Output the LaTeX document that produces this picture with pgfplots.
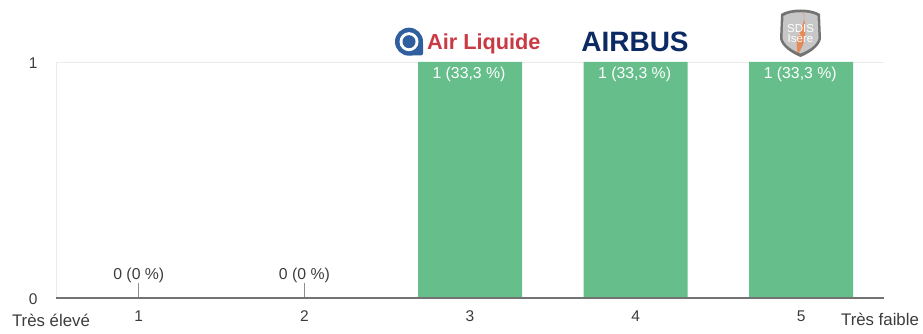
\documentclass[border=0pt]{standalone}
\usepackage{fontspec}
\setmainfont{Liberation Sans}
\usepackage{pgfplots}
\pgfplotsset{compat=1.18}
\definecolor{barg}{HTML}{66BF8B}
\definecolor{txt}{HTML}{3C3C3C}
\definecolor{alblue}{HTML}{2F5F9E}
\definecolor{alred}{HTML}{C93A44}
\definecolor{abnavy}{HTML}{0B2A63}
\begin{document}
\begin{tikzpicture}[x=1pt,y=1pt]
\path (0,0) rectangle (923,334);
\begin{axis}[
  at={(56pt,36pt)}, anchor=south west, scale only axis,
  width=828pt, height=236pt,
  xmin=0.5, xmax=5.5, ymin=0, ymax=1,
  xtick={1,2,3,4,5}, ytick={0,1},
  xtick style={draw=none}, ytick style={draw=none},
  /pgf/number format/assume math mode=true,
  tick label style={font=\fontsize{15.5}{17}\selectfont, text=txt},
  xticklabel style={yshift=-9pt},
  yticklabel style={xshift=-15pt, yshift=-1pt},
  ymajorgrids, grid style={draw=black!8, line width=0.8pt},
  axis line style={draw=black!8, line width=0.8pt},
  axis x line*=bottom, axis y line*=left,
  clip=false,
]
\addplot[ybar, bar width=104pt, bar shift=0pt, fill=barg, draw=none,
  point meta=explicit symbolic,
  nodes near coords,
  nodes near coords align={below},
  every node near coord/.append style={font=\fontsize{15.8}{17}\selectfont, text=white, yshift=-2pt, xshift=-1pt}]
  coordinates {(3,1)[1 (33,3 \%)] (4,1)[1 (33,3 \%)] (5,1)[1 (33,3 \%)]};
\addplot[ycomb, draw=black!45, line width=0.8pt, mark=none,
  point meta=explicit symbolic,
  nodes near coords,
  nodes near coords align={above},
  every node near coord/.append style={font=\fontsize{15.8}{17}\selectfont, text=txt, yshift=-4pt}]
  coordinates {(1,0.065)[0 (0 \%)] (2,0.065)[0 (0 \%)]};
\draw[draw=black!55, line width=1.4pt] (axis cs:0.5,0) -- (axis cs:5.5,0);
\end{axis}
% scale labels
\node[font=\fontsize{16.8}{18}\selectfont, text=txt] at (51,14) {Très élevé};
\node[font=\fontsize{16.8}{18}\selectfont, text=txt] at (880,15) {Très faible};
% Air Liquide logo
\fill[alblue] (409,292.3) circle (14);
\fill[alblue, rounded corners=2pt] (409,278.5) rectangle (423,292);
\fill[white] (409,292.3) circle (9.5);
\fill[alblue] (409,292.3) circle (6.5);
\node[font=\fontsize{21.7}{24}\bfseries\selectfont, text=alred, anchor=base west, inner sep=0pt] at (427,284) {Air Liquide};
% Airbus logo
\node[font=\fontsize{28}{29}\bfseries\selectfont, text=abnavy, anchor=base, inner sep=0pt] at (635,282) {AIRBUS};
% SDIS shield
\fill[black!55] (781,320) .. controls (790,326) and (811,326) .. (820,320) -- (821,295) .. controls (819,287) and (810,281) .. (800.5,277) .. controls (791,281) and (782,287) .. (780,295) -- cycle;
\fill[black!22] (783.5,318) .. controls (791,323) and (810,323) .. (817.5,318) -- (818.5,296) .. controls (817,289) and (809,284) .. (800.5,280.5) .. controls (792,284) and (784,289) .. (782.5,296) -- cycle;
\fill[orange!70!red, opacity=.55] (803,323) .. controls (809,310) and (792,300) .. (798,280) .. controls (808,295) and (806,305) .. (803,323) -- cycle;
\node[font=\fontsize{11.5}{11}\selectfont, text=white, align=center, inner sep=0pt] at (800.5,300) {SDIS\\[-1pt]Isère};
\end{tikzpicture}
\end{document}
